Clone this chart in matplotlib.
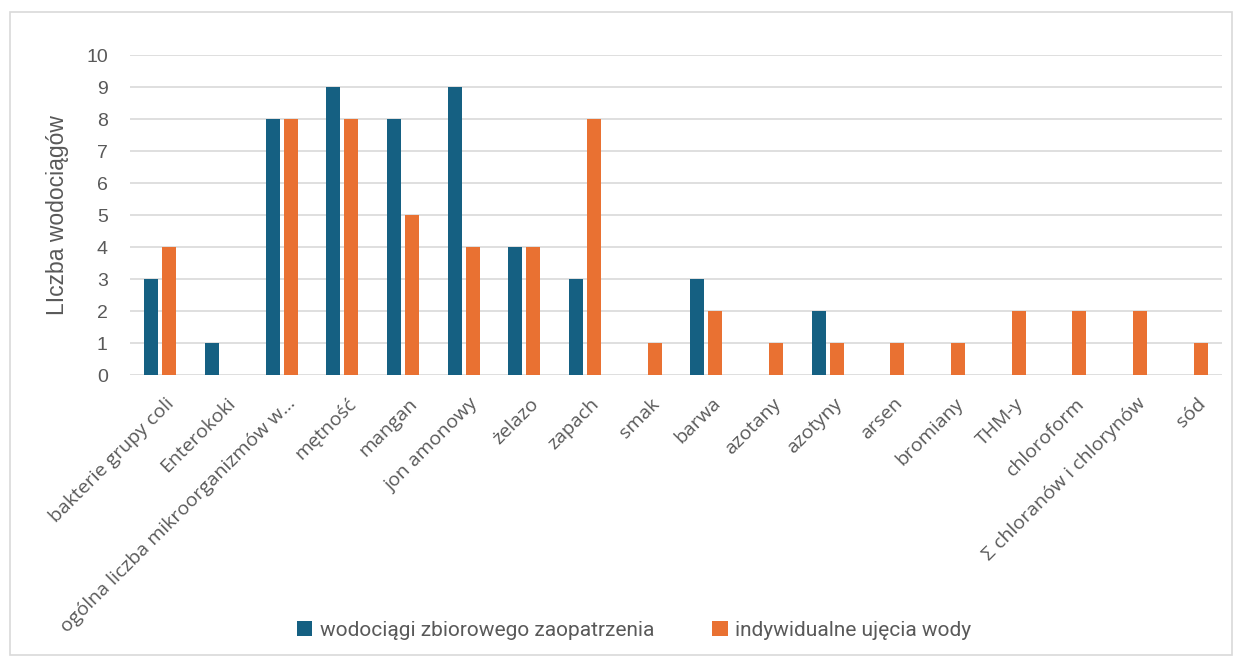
import numpy as np
import matplotlib.pyplot as plt
from matplotlib.patches import Rectangle
from matplotlib import font_manager
from matplotlib.transforms import ScaledTranslation

plt.rcParams['font.family'] = ['Liberation Sans', 'DejaVu Sans']

# data
categories = ['bakterie grupy coli', 'Enterokoki', 'ogólna liczba mikroorganizmów w…',
              'mętność', 'mangan', 'jon amonowy', 'żelazo', 'zapach', 'smak', 'barwa',
              'azotany', 'azotyny', 'arsen', 'bromiany', 'THM-y', 'chloroform',
              'Σ chloranów i chlorynów', 'sód']
zbiorowe = [3, 1, 8, 9, 8, 9, 4, 3, 0, 3, 0, 2, 0, 0, 0, 0, 0, 0]
indywidualne = [4, 0, 8, 8, 5, 4, 4, 8, 1, 2, 1, 1, 1, 1, 2, 2, 2, 1]
series_names = ['wodociągi zbiorowego zaopatrzenia', 'indywidualne ujęcia wody']

BLUE = '#156082'
ORANGE = '#E97132'
TXT = '#595959'

names = {f.name for f in font_manager.fontManager.ttflist}
narrow = 'Liberation Sans Narrow' if 'Liberation Sans Narrow' in names else 'Roboto'

fig = plt.figure(figsize=(12.42, 6.61), dpi=100)
ax = fig.add_axes([130 / 1242, 1 - 375 / 661, 1092 / 1242, 320 / 661])

x = np.arange(len(categories))
w = 0.23
ax.bar(x - 0.15, zbiorowe, w, color=BLUE, label=series_names[0], zorder=3)
ax.bar(x + 0.15, indywidualne, w, color=ORANGE, label=series_names[1], zorder=3)

ax.set_xlim(-0.5, len(categories) - 0.5)
ax.set_ylim(0, 10)
ax.set_yticks(range(0, 11))
ax.yaxis.grid(True, color='#d9d9d9', linewidth=1.2, zorder=0)
ax.set_axisbelow(True)
for s in ax.spines.values():
    s.set_visible(False)
ax.tick_params(axis='both', length=0, colors=TXT)
ax.tick_params(axis='y', labelsize=14, pad=16)

ax.set_xticks(x)
ax.set_xticklabels(categories, rotation=45, ha='right', va='top', rotation_mode='anchor',
                   fontsize=14, color=TXT, family=['Open Sans', 'DejaVu Sans'])
ax.tick_params(axis='x', pad=14)
shift = ScaledTranslation(5 / 100, 0, fig.dpi_scale_trans)
for lbl in ax.get_xticklabels():
    lbl.set_transform(lbl.get_transform() + shift)

ax.set_ylabel('LIczba wodociągów', fontsize=16.5, color=TXT, labelpad=12)

ax.legend(loc='center', bbox_to_anchor=(634 / 1242, 1 - 630 / 661), bbox_transform=fig.transFigure,
          ncol=2, frameon=False, labelcolor=TXT, handlelength=0.75,
          handleheight=0.75, handletextpad=0.35, columnspacing=2.8,
          prop={'family': [narrow, 'DejaVu Sans'], 'size': 15})

fig.patches.append(Rectangle((10 / 1242, 6 / 661), 1222 / 1242, 643 / 661,
                             transform=fig.transFigure, fill=False,
                             edgecolor='#d9d9d9', linewidth=1.2))

fig.savefig('out.png', dpi=100)
